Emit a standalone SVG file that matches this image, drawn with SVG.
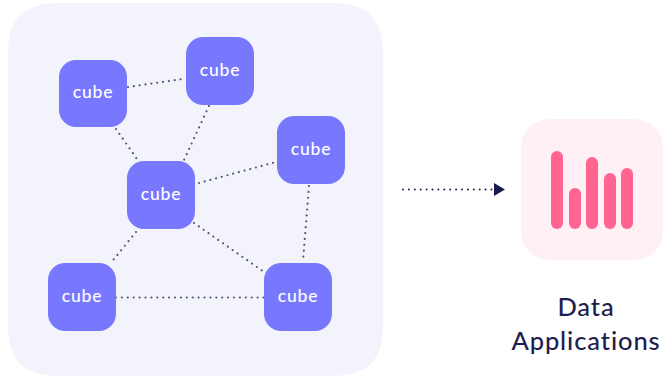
<svg xmlns="http://www.w3.org/2000/svg" width="663" height="377" viewBox="0 0 663 377">
<defs>
<style>
.c{fill:#7878ff}
.t{font-family:"Lato","Noto Sans",sans-serif;font-size:17.500px;fill:#fff;text-anchor:middle;letter-spacing:.8px;font-weight:500}
.l{fill:none;stroke:#55557a;stroke-width:2.200;stroke-linecap:round;stroke-dasharray:0 5.900}
.b{fill:#ff6590}
.d{font-family:"Lato","Noto Sans",sans-serif;font-size:25.500px;fill:#1f1f4f;text-anchor:middle;letter-spacing:.9px;font-weight:500}
</style>
</defs>
<rect width="663" height="377" fill="#fff"/>
<path id="panel" d="M60 3H331C368 3 383 18 383 55V324C383 361 368 376 331 376H60C23 376 8 361 8 324V55C8 18 23 3 60 3Z" fill="#f3f3fb"/>
<g id="connectors">
<path class="l" d="M128 87L183 79"/>
<path class="l" d="M116 129L139 162"/>
<path class="l" d="M209 106L184 160"/>
<path class="l" d="M199 183L276 162"/>
<path class="l" d="M309 186L303 261"/>
<path class="l" d="M194 223L264 272"/>
<path class="l" d="M136 232L110 264"/>
<path class="l" d="M116 297.500L264 297.500"/>
<path d="M403 189.500H492" fill="none" stroke="#1f1f4f" stroke-width="2" stroke-linecap="round" stroke-dasharray="0 5.900"/>
<path d="M494 183L505 189.500L494 196Z" fill="#1a1a4d"/>
</g>
<g id="n1"><rect class="c" x="59" y="60" width="68" height="67" rx="17"/><text class="t" x="93" y="98">cube</text></g>
<g id="n2"><rect class="c" x="186" y="37" width="68" height="68" rx="17"/><text class="t" x="220" y="76">cube</text></g>
<g id="n3"><rect class="c" x="277" y="116" width="68" height="68" rx="17"/><text class="t" x="311" y="155">cube</text></g>
<g id="n4"><rect class="c" x="127" y="161" width="68" height="68" rx="17"/><text class="t" x="161" y="200">cube</text></g>
<g id="n5"><rect class="c" x="48" y="263" width="68" height="68" rx="17"/><text class="t" x="82" y="302">cube</text></g>
<g id="n6"><rect class="c" x="264" y="263" width="68" height="68" rx="17"/><text class="t" x="298" y="302">cube</text></g>
<g id="app">
<rect x="521" y="119" width="142" height="141" rx="28" fill="#fef0f4"/>
<rect class="b" x="551" y="151" width="12" height="78" rx="6"/>
<rect class="b" x="569" y="188" width="12" height="41" rx="6"/>
<rect class="b" x="586" y="157" width="12" height="72" rx="6"/>
<rect class="b" x="604" y="173" width="12" height="56" rx="6"/>
<rect class="b" x="621" y="168" width="12" height="61" rx="6"/>
<text class="d" x="586" y="316">Data</text>
<text class="d" x="586" y="350">Applications</text>
</g>
</svg>
